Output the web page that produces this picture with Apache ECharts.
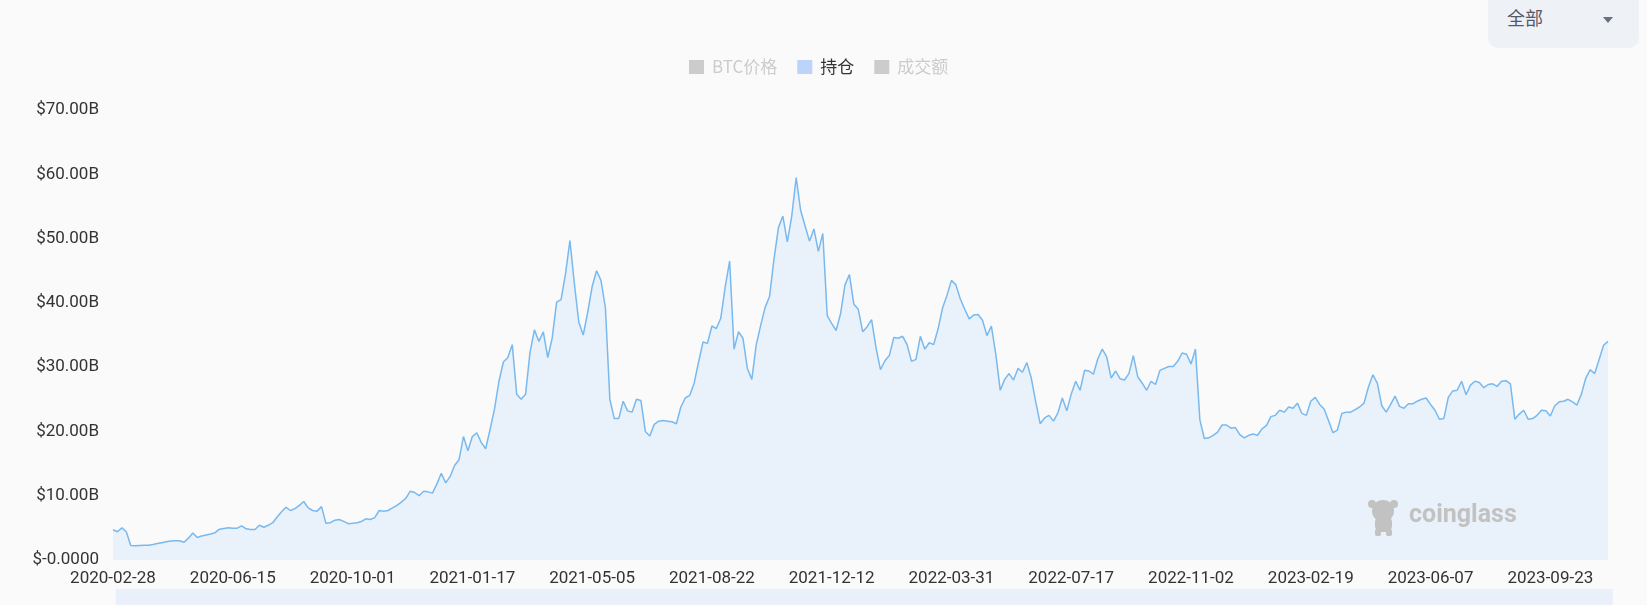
<!DOCTYPE html>
<html>
<head>
<meta charset="utf-8">
<script src="https://cdn.jsdelivr.net/npm/echarts@6/dist/echarts.min.js"></script>
<style>
  html, body { margin: 0; padding: 0; background: #fafafa; overflow: hidden; }
  #chart { position: absolute; left: 0; top: 0; width: 1647px; height: 605px; }
  #range {
    position: absolute; left: 1488px; top: -10px; width: 151px; height: 58px;
    background: #eef1f6; border-radius: 10px; box-sizing: border-box;
    font-family: "Noto Sans CJK SC", "Noto Sans", sans-serif; font-size: 18px; color: #545868;
  }
  #range span { position: absolute; left: 19px; top: 15px; line-height: 24px; }
  #range i { position: absolute; left: 115px; top: 27px; width: 0; height: 0;
    border-left: 5.5px solid transparent; border-right: 5.5px solid transparent; border-top: 6px solid #6b7080; }
</style>
</head>
<body>
<div id="chart"></div>
<div id="range"><span>全部</span><i></i></div>
<script>
// ---- data ----
// x-axis tick labels shown on the reference (one every 27 points)
const tickLabels = ['2020-02-28', '2020-06-15', '2020-10-01', '2021-01-17', '2021-05-05', '2021-08-22',
  '2021-12-12', '2022-03-31', '2022-07-17', '2022-11-02', '2023-02-19', '2023-06-07', '2023-09-23'];
const pointsPerTick = 27;
const stepDays = 4;
const legendNames = ['BTC价格', '持仓', '成交额'];
const yTicks = [0, 10, 20, 30, 40, 50, 60, 70]; // $B
// open interest, billions USD
const openInterest = [
  4.7,4.4,5.0,4.4,2.25,2.2,2.25,2.3,2.3,2.4,
  2.55,2.7,2.85,2.95,3.0,3.0,2.75,3.4,4.2,3.5,
  3.75,3.9,4.05,4.25,4.8,4.9,5.0,4.95,4.95,5.3,
  4.85,4.75,4.75,5.4,5.1,5.4,5.8,6.7,7.5,8.2,
  7.7,8.0,8.5,9.1,8.1,7.7,7.6,8.3,5.7,5.8,
  6.2,6.3,6.0,5.65,5.7,5.8,6.0,6.4,6.3,6.6,
  7.7,7.6,7.7,8.1,8.5,9.0,9.6,10.7,10.5,10.0,
  10.7,10.6,10.4,11.8,13.5,12.0,13.0,14.7,15.6,19.2,
  17.0,19.2,19.8,18.3,17.3,20.3,23.5,27.8,30.8,31.5,
  33.5,25.8,25.0,25.8,32.3,35.8,34.0,35.5,31.5,34.5,
  40.1,40.5,44.5,49.7,43.0,37.0,35.0,38.5,42.5,45.0,
  43.5,39.2,25.0,22.0,22.0,24.7,23.2,23.0,25.0,24.8,
  20.0,19.3,21.1,21.6,21.7,21.6,21.5,21.2,23.8,25.2,
  25.6,27.5,30.8,33.9,33.7,36.4,36.0,37.6,42.5,46.5,
  32.8,35.5,34.5,29.8,28.1,33.5,36.5,39.3,41.0,46.8,
  51.7,53.5,49.5,53.5,59.5,54.4,52.0,49.6,51.5,48.0,
  50.8,38.0,36.8,35.7,38.3,42.8,44.4,39.8,39.0,35.5,
  36.3,37.4,33.0,29.6,31.0,31.8,34.6,34.5,34.8,33.5,
  30.9,31.2,34.8,32.8,33.8,33.5,36.0,39.2,41.2,43.5,
  42.8,40.6,39.0,37.5,38.1,38.2,37.3,34.9,36.4,32.0,
  26.4,28.1,29.0,28.0,29.8,29.2,30.7,28.3,24.6,21.2,
  22.1,22.5,21.6,22.9,25.2,23.2,25.8,27.8,26.4,29.5,
  29.4,28.9,31.3,32.8,31.6,28.3,29.4,28.2,28.0,29.0,
  31.8,28.5,27.5,26.4,27.8,27.3,29.5,29.8,30.1,30.1,
  30.9,32.2,32.0,30.5,32.8,21.8,18.9,19.0,19.4,19.9,
  21.0,21.0,20.5,20.6,19.5,19.0,19.4,19.6,19.4,20.4,
  20.9,22.3,22.5,23.3,23.0,23.8,23.6,24.4,22.8,22.5,
  24.7,25.3,24.2,23.5,21.7,19.8,20.2,22.8,23.0,23.0,
  23.4,23.8,24.4,26.9,28.8,27.5,24.0,23.0,24.2,25.5,
  23.9,23.6,24.3,24.3,24.7,25.0,25.2,24.2,23.3,21.9,
  22.0,25.3,26.3,26.4,27.8,25.7,27.2,27.8,27.6,26.8,
  27.3,27.4,27.0,27.8,27.9,27.4,21.9,22.7,23.3,21.9,
  22.0,22.5,23.3,23.2,22.4,24.0,24.6,24.7,25.0,24.6,
  24.1,25.8,28.3,29.6,29.0,31.2,33.4,34.0
];

// category dates: each tick label date, then 4-day steps up to the next tick
function pad(n) { return (n < 10 ? '0' : '') + n; }
function addDays(s, d) {
  const p = s.split('-').map(Number);
  const t = new Date(Date.UTC(p[0], p[1] - 1, p[2]) + d * 86400000);
  return t.getUTCFullYear() + '-' + pad(t.getUTCMonth() + 1) + '-' + pad(t.getUTCDate());
}
const categories = openInterest.map(function (_, i) {
  const k = Math.min(Math.floor(i / pointsPerTick), tickLabels.length - 1);
  return addDays(tickLabels[k], (i - k * pointsPerTick) * stepDays);
});

const chart = echarts.init(document.getElementById('chart'), null, { renderer: 'canvas' });
const axisFont = 'Roboto, "Noto Sans", sans-serif';

chart.setOption({
  backgroundColor: '#fafafa',
  animation: false,
  legend: {
    left: 684, top: 53,
    itemWidth: 15, itemHeight: 14, itemGap: 20,
    icon: 'rect',
    inactiveColor: '#cccccc',
    textStyle: { fontSize: 17, color: '#333', fontFamily: '"Noto Sans CJK SC", Roboto, sans-serif', padding: [0, 0, 0, 3], lineHeight: 18 },
    data: [
      { name: legendNames[0] },
      { name: legendNames[1], itemStyle: { color: '#bcd3fa' } },
      { name: legendNames[2] }
    ],
    selected: { 'BTC价格': false, '持仓': true, '成交额': false }
  },
  grid: { left: 113, right: 39, top: 110, bottom: 45 },
  xAxis: {
    type: 'category',
    data: categories,
    boundaryGap: false,
    axisLine: { show: false },
    axisTick: { show: false },
    axisLabel: { interval: pointsPerTick - 1, color: '#333', fontSize: 17, fontFamily: axisFont, margin: 10 },
    splitLine: { show: false }
  },
  yAxis: {
    type: 'value',
    min: yTicks[0], max: yTicks[yTicks.length - 1], interval: 10,
    axisLine: { show: false },
    axisTick: { show: false },
    splitLine: { show: false },
    axisLabel: {
      color: '#333', fontSize: 17, fontFamily: axisFont, margin: 14,
      formatter: function (v) { return v === 0 ? '$-0.0000' : '$' + v.toFixed(2) + 'B'; }
    }
  },
  dataZoom: [{
    type: 'slider', xAxisIndex: 0, start: 0, end: 100,
    left: 115, right: 35, top: 589, height: 40,
    showDetail: false, showDataShadow: false, brushSelect: false,
    moveHandleSize: 0, handleSize: 0,
    backgroundColor: 'transparent', borderColor: 'transparent',
    fillerColor: '#e9f0fa',
    handleStyle: { opacity: 0 },
    dataBackground: { lineStyle: { opacity: 0 }, areaStyle: { opacity: 0 } }
  }],
  graphic: [
    {
      type: 'group', left: 1368, top: 500, silent: true, z: 100,
      children: [
        { type: 'circle', z: 100, shape: { cx: 16, cy: 13, r: 11 }, style: { fill: '#c2c2c2' } },
        { type: 'circle', z: 100, shape: { cx: 5, cy: 6, r: 4 }, style: { fill: '#c2c2c2' } },
        { type: 'circle', z: 100, shape: { cx: 27, cy: 6, r: 4 }, style: { fill: '#c2c2c2' } },
        { type: 'rect', z: 100, shape: { x: 8, y: 18, width: 17, height: 16, r: 6 }, style: { fill: '#c2c2c2' } },
        { type: 'rect', z: 100, shape: { x: 8, y: 31, width: 6, height: 7, r: 2 }, style: { fill: '#c2c2c2' } },
        { type: 'rect', z: 100, shape: { x: 19, y: 31, width: 6, height: 7, r: 2 }, style: { fill: '#c2c2c2' } }
      ]
    },
    {
      type: 'text', left: 1409, top: 503, silent: true, z: 100,
      style: { text: 'coinglass', fill: '#c2c2c2', font: 'bold 25px Roboto, "Noto Sans", sans-serif' }
    }
  ],
  series: [
    { name: legendNames[0], type: 'line', data: [], showSymbol: false },
    {
      name: legendNames[1], type: 'line', data: openInterest,
      showSymbol: false, symbol: 'none',
      itemStyle: { color: '#bcd3fa' },
      lineStyle: { color: '#78b9ef', width: 1.5 },
      areaStyle: { color: '#e9f1fa', opacity: 1 }
    },
    { name: legendNames[2], type: 'line', data: [], showSymbol: false }
  ]
});
</script>
</body>
</html>
